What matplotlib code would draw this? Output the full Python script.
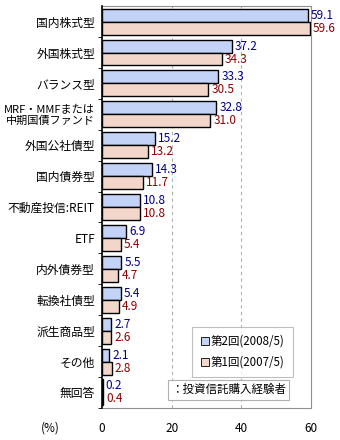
import matplotlib
matplotlib.use("Agg")
import matplotlib.pyplot as plt
from matplotlib.patches import Patch
import numpy as np

plt.rcParams['font.family'] = ['Noto Sans CJK JP', 'DejaVu Sans']

categories = ["国内株式型", "外国株式型", "バランス型", "MRF・MMFまたは\n中期国債ファンド",
              "外国公社債型", "国内債券型", "不動産投信:REIT", "ETF", "内外債券型",
              "転換社債型", "派生商品型", "その他", "無回答"]
v2008 = [59.1, 37.2, 33.3, 32.8, 15.2, 14.3, 10.8, 6.9, 5.5, 5.4, 2.7, 2.1, 0.2]
v2007 = [59.6, 34.3, 30.5, 31.0, 13.2, 11.7, 10.8, 5.4, 4.7, 4.9, 2.6, 2.8, 0.4]
xticks = [0, 20, 40, 60]

blue = "#c3d3f7"
pink = "#f3d6ca"

fig = plt.figure(figsize=(3.4, 4.4), dpi=100)
ax = fig.add_axes([0.3, 0.073, 0.615, 0.913])

y = np.arange(len(categories))
h = 0.42
ax.barh(y - h / 2, v2008, height=h, color=blue, edgecolor="black", linewidth=1.0, zorder=3)
ax.barh(y + h / 2, v2007, height=h, color=pink, edgecolor="black", linewidth=1.0, zorder=3)

for i in range(len(categories)):
    ax.text(v2008[i] + 0.9, y[i] - h / 2, f"{v2008[i]:.1f}", va="center", ha="left",
            color="#00008b", fontsize=8.5, zorder=4)
    ax.text(v2007[i] + 0.9, y[i] + h / 2, f"{v2007[i]:.1f}", va="center", ha="left",
            color="#8b0000", fontsize=8.5, zorder=4)

ax.set_xlim(0, 60)
ax.set_ylim(len(categories) - 0.5, -0.5)
ax.set_xticks(xticks)
ax.set_xticklabels([str(t) for t in xticks], fontsize=8.5)
ax.tick_params(axis="x", length=0, pad=10)
ax.set_yticks(y)
ax.set_yticklabels(categories, fontsize=8.5, linespacing=1.05)
for lbl in ax.get_yticklabels():
    if "MRF" in lbl.get_text():
        lbl.set_fontsize(8.0)
ax.tick_params(axis="y", length=0, pad=5)
ax.set_yticks(np.arange(len(categories)) + 0.5, minor=True)
ax.tick_params(axis="y", which="minor", length=3, direction="out", color="black")

for xv in [20, 40]:
    ax.axvline(xv, color="#b0b0b0", linestyle=(0, (3, 3)), linewidth=0.8, zorder=1)

for s in ["top", "right", "bottom"]:
    ax.spines[s].set_color("#909090")
ax.spines["left"].set_color("black")
ax.spines["left"].set_linewidth(1.2)
ax.spines["left"].set_zorder(5)

handles = [Patch(facecolor=blue, edgecolor="black", linewidth=0.6),
           Patch(facecolor=pink, edgecolor="black", linewidth=0.6)]
leg = ax.legend(handles, ["第2回(2008/5)", "第1回(2007/5)"], loc="upper left",
                bbox_to_anchor=(0.405, 0.216), fontsize=8.3, frameon=True, fancybox=False,
                handlelength=0.7, handleheight=0.7, handletextpad=0.2, borderpad=0.7,
                labelspacing=0.7)
leg.get_frame().set_edgecolor("#b0b0b0")
leg.get_frame().set_linewidth(0.8)

ax.text(0.33, 0.045, "：投資信託購入経験者", transform=ax.transAxes, fontsize=8.3,
        va="center", ha="left", zorder=6,
        bbox=dict(boxstyle="square,pad=0.3", facecolor="white", edgecolor="#b0b0b0", linewidth=0.8))

fig.text(0.147, 0.027, "(%)", fontsize=8.5, ha="center", va="center")

fig.savefig("out.png", dpi=100)
